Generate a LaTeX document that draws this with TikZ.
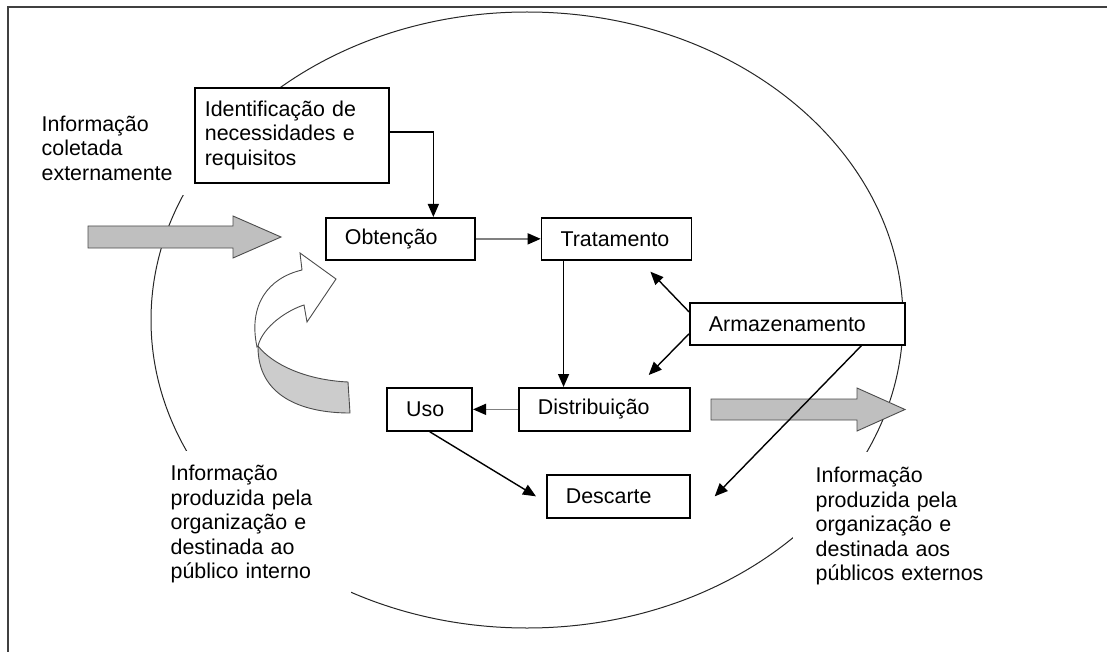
\documentclass[tikz,border=0pt]{standalone}
\usepackage{fontspec}
\setmainfont{Liberation Sans}
\usepackage{xcolor}
\colorlet{colorFrame}{black!75}
\colorlet{colorCycle}{black!85}
\colorlet{colorBlock}{black!25}
\colorlet{colorRibbon}{black!20}
\colorlet{colorFlow}{black!50}
\usetikzlibrary{arrows.meta, positioning}

\begin{document}
\begin{tikzpicture}[x=1pt, y=-1pt, line width=1.4pt, >={Triangle[length=13pt,width=11pt]},
  every node/.style={font=\fontsize{21.4}{24.5}\selectfont},
  box/.style={draw, fill=white, line width=1.7pt, minimum height=42pt, inner xsep=19pt, align=left},
  infotext/.style={fill=white, inner xsep=5pt, inner ysep=0pt, align=left},
  bigarrow/.style={draw=black!70, line width=0.9pt, fill=colorBlock},
  flow/.style={draw=colorFlow, -{Triangle[length=13pt,width=11pt,color=black]}}]
\useasboundingbox (0,0) rectangle (1107,652);
\draw[line width=1.8pt, colorFrame] (8,652) -- (8,7) -- (1107,7);
\draw[line width=1pt, colorCycle] (527,320) ellipse [x radius=376, y radius=308];

% textos de fora do ciclo
\node[infotext, text width=150pt, minimum height=95pt, anchor=west] (infoext) at (36,148) {Informação\\coletada\\externamente};
\node[infotext, text width=175pt, minimum height=147pt, anchor=west] (infoint) at (165,524) {Informação\\produzida pela\\organização e\\destinada ao\\público interno};
\node[infotext, text width=190pt, minimum height=148pt, inner xsep=23pt, anchor=west] (infopub) at (792,526) {Informação\\produzida pela\\organização e\\destinada aos\\públicos externos};

% setas grandes
\draw[bigarrow] (88,226) -- (233,226) -- (233,216) -- (281,237) -- (233,258) -- (233,248) -- (88,248) -- cycle;
\draw[bigarrow] (711,399) -- (857,399) -- (857,388) -- (905,409.5) -- (857,431) -- (857,420) -- (711,420) -- cycle;
\draw[bigarrow, fill=colorRibbon] (258,346) .. controls (272,364) and (305,380) .. (348,382) -- (350,413) .. controls (300,413) and (258,395) .. (258,347) -- cycle;
\draw[bigarrow, fill=white] (257,347) .. controls (248,305) and (268,278) .. (302,270) -- (300,253) -- (336,279) -- (307,322) -- (304,305) .. controls (288,310) and (263,326) .. (258,346) -- cycle;

% etapas
\node[box, text width=174pt, minimum height=95pt, inner xsep=10pt, anchor=north west] (ident) at (194,87) {Identificação de\\necessidades e\\requisitos};
\node[box, text width=111pt, anchor=north west] (obt) at (325,217) {Obtenção};
\node[box, text width=112pt, right=65pt of obt] (trat) {Tratamento};
\node[box, text width=177pt, anchor=north west] (arm) at (689,302) {Armazenamento};
\node[box, text width=133pt, minimum height=43pt, anchor=north west] (dist) at (518,387) {Distribuição};
\node[box, text width=47pt, minimum height=43pt, left=45pt of dist] (uso) {Uso};
\node[box, text width=105pt, minimum height=43pt, anchor=north west] (desc) at (546,474) {Descarte};

\draw[->] ([yshift=3.5pt]ident.east) -| ([xshift=33pt]obt.north);
\draw[flow] (obt) -- (trat);
\draw[->] ([xshift=-53pt]trat.south) -- ([xshift=-53pt]trat.south |- dist.north);
\draw[->] ([yshift=12pt]arm.west) -- ([xshift=-42pt,yshift=-11pt]trat.south east);
\draw[->] ([yshift=-10pt]arm.west) -- ([xshift=-42pt,yshift=12pt]dist.north east);
\draw[->] ([xshift=64pt]arm.south) -- ([xshift=24pt]desc.east);
\draw[flow] (dist) -- (uso);
\draw[->] (uso.south) -- ([xshift=-10pt]desc.west);
\end{tikzpicture}
\end{document}
